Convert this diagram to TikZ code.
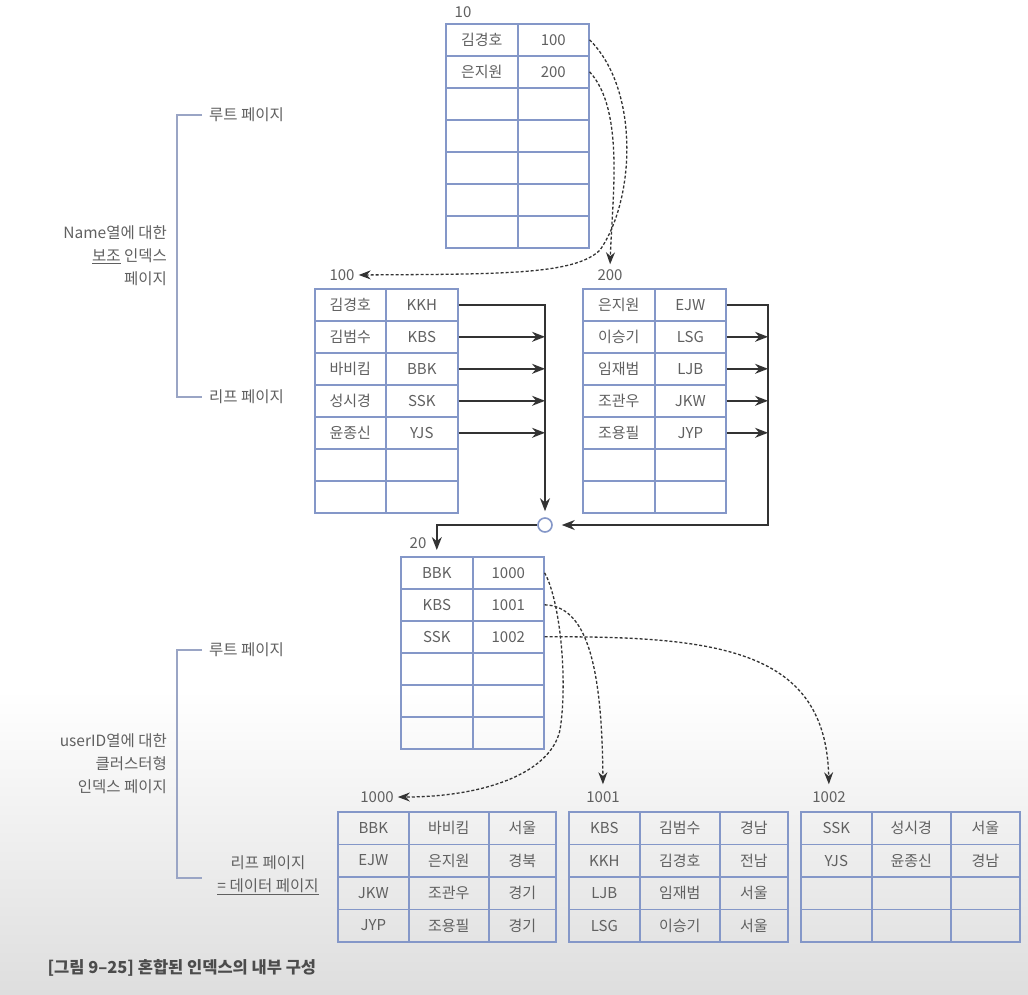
\documentclass[tikz,border=0pt]{standalone}
\usepackage{fontspec}
\setmainfont{Noto Sans CJK KR}
\usetikzlibrary{arrows.meta,calc}
\definecolor{tblue}{HTML}{8497C8}
\definecolor{tgray}{HTML}{606060}
\definecolor{agray}{HTML}{333333}
\definecolor{brgray}{HTML}{9AA5C5}
\definecolor{bgend}{HTML}{DEDEDE}
\newcommand\twocol[7]{% name, x0, w1, w2, y0, rowh, list
  \foreach \ca/\cb [count=\i] in {#7} {
    \node[cellbox, minimum width=#3pt, minimum height=#6pt] (#1-\i-1) at (#2, {#5+(\i-1)*#6}) {\ca};
    \node[cellbox, minimum width=#4pt, minimum height=#6pt] (#1-\i-2) at ({#2+#3}, {#5+(\i-1)*#6}) {\cb};
  }}
\newcommand\threecol[8]{% name, x0, w1, w2, w3, y0, rowh, list
  \foreach \ca/\cb/\cc [count=\i] in {#8} {
    \node[cellbox, minimum width=#3pt, minimum height=#7pt] (#1-\i-1) at (#2, {#6+(\i-1)*#7}) {\ca};
    \node[cellbox, minimum width=#4pt, minimum height=#7pt] (#1-\i-2) at ({#2+#3}, {#6+(\i-1)*#7}) {\cb};
    \node[cellbox, minimum width=#5pt, minimum height=#7pt] (#1-\i-3) at ({#2+#3+#4}, {#6+(\i-1)*#7}) {\cc};
  }}
\begin{document}
\begin{tikzpicture}[x=1pt,y=-1pt,
  cellbox/.style={draw=tblue, line width=1.6pt, inner sep=0pt, anchor=north west,
    text=tgray, font=\fontsize{15}{17}\selectfont},
  lbl/.style={text=tgray, inner sep=1pt, font=\fontsize{15}{17}\selectfont},
  sidelbl/.style={text=tgray, inner sep=1pt, font=\fontsize{15.5}{23}\selectfont},
  solidarr/.style={draw=agray, line width=1.4pt, -{Stealth[length=13pt,width=10pt]}},
  dasharr/.style={draw=agray, line width=1.3pt, dash pattern=on 3pt off 2pt, -{Stealth[length=12pt,width=9pt]}},
  bracket/.style={draw=brgray, line width=1.5pt},
]
\useasboundingbox (0,0) rectangle (1028,994);
\fill[white] (0,0) rectangle (1028,994);
\shade[top color=white, bottom color=bgend] (0,690) rectangle (1028,994);

% tables
\twocol{t10}{445}{72}{71}{23}{32}{김경호/100, 은지원/200, {}/{}, {}/{}, {}/{}, {}/{}, {}/{}}
\twocol{t100}{314}{71}{72}{288}{32}{김경호/KKH, 김범수/KBS, 바비킴/BBK, 성시경/SSK, 윤종신/YJS, {}/{}, {}/{}}
\twocol{t200}{582}{72}{71}{288}{32}{은지원/EJW, 이승기/LSG, 임재범/LJB, 조관우/JKW, 조용필/JYP, {}/{}, {}/{}}
\twocol{t20}{400}{72}{71}{556}{32}{BBK/1000, KBS/1001, SSK/1002, {}/{}, {}/{}, {}/{}}
\threecol{t1000}{337}{71}{80}{67}{811}{32.5}{BBK/바비킴/서울, EJW/은지원/경북, JKW/조관우/경기, JYP/조용필/경기}
\threecol{t1001}{568}{71}{80}{68}{811}{32.5}{KBS/김범수/경남, KKH/김경호/전남, LJB/임재범/서울, LSG/이승기/서울}
\threecol{t1002}{800}{71}{79}{69}{811}{32.5}{SSK/성시경/서울, YJS/윤종신/경남, {}/{}/{}, {}/{}/{}}

% page labels
\node[lbl] (l10) at (463,12) {10};
\node[lbl] (l100) at (342,275) {100};
\node[lbl] (l200) at (610,275) {200};
\node[lbl] (l20) at (418,543) {20};
\node[lbl] (l1000) at (377,797) {1000};
\node[lbl] (l1001) at (603,797) {1001};
\node[lbl] (l1002) at (829,797) {1002};

% junction
\node[circle, draw=tblue, line width=1.6pt, fill=white, minimum size=14pt, inner sep=0pt] (junc) at (545,525) {};
\coordinate (rt) at (768,525);

% solid connectors
\draw[solidarr, shorten >=6pt] (t100-1-2.east) -| (junc.north);
\foreach \i in {2,...,5} \draw[solidarr] (t100-\i-2.east) -- (t100-\i-2.east -| junc.center);
\draw[solidarr, shorten >=9pt] (t200-1-2.east) -| (rt) -- (junc.east);
\foreach \i in {2,...,5} \draw[solidarr] (t200-\i-2.east) -- (t200-\i-2.east -| rt);
\draw[solidarr, shorten >=6pt] (junc.west) -| (t20-1-1.north);

% dashed connectors (top)
\draw[dasharr, shorten >=3pt] (t10-1-2.east) .. controls (640,90) and (635,200) .. (600,250)
   .. controls (575,275) and (500,274) .. (l100.east);
\draw[dasharr, shorten >=4pt] (t10-2-2.east) .. controls (625,110) and (612,200) .. (l200.north);

% dashed connectors (bottom)
\draw[dasharr, shorten >=3pt] (t20-1-2.east) .. controls (560,600) and (568,680) .. (560,730)
   .. controls (550,775) and (480,797) .. (l1000.east);
\draw[dasharr, shorten >=6pt] (t20-2-2.east) .. controls (585,606) and (602,660) .. (l1001.north);
\draw[dasharr, shorten >=6pt] (t20-3-2.east) .. controls (720,636) and (826,650) .. (l1002.north);

% side labels
\node[sidelbl, anchor=west] (root1) at (208,115) {루트 페이지};
\node[sidelbl, anchor=west] (leaf1) at (208,397) {리프 페이지};
\node[sidelbl, anchor=east, align=right] (desc1) at (168,256) {Name열에 대한\\\underline{보조} 인덱스\\페이지};
\draw[bracket] ([xshift=-6pt]root1.west) -- ++(-25,0) |- ([xshift=-6pt]leaf1.west);

\node[sidelbl, anchor=west] (root2) at (208,650) {루트 페이지};
\node[sidelbl, align=center] (leaf2) at (268,875) {리프 페이지\\\underline{= 데이터 페이지}};
\coordinate (leaf2tick) at (202,878);
\node[sidelbl, anchor=east, align=right] (desc2) at (168,764) {userID열에 대한\\클러스터형\\인덱스 페이지};
\draw[bracket] ([xshift=-6pt]root2.west) -- ++(-25,0) |- (leaf2tick);

% caption
\node[anchor=west, text=black!70, font=\fontsize{16.5}{18}\selectfont\bfseries] (cap) at (44,968) {[그림 9--25] 혼합된 인덱스의 내부 구성};
\end{tikzpicture}
\end{document}
